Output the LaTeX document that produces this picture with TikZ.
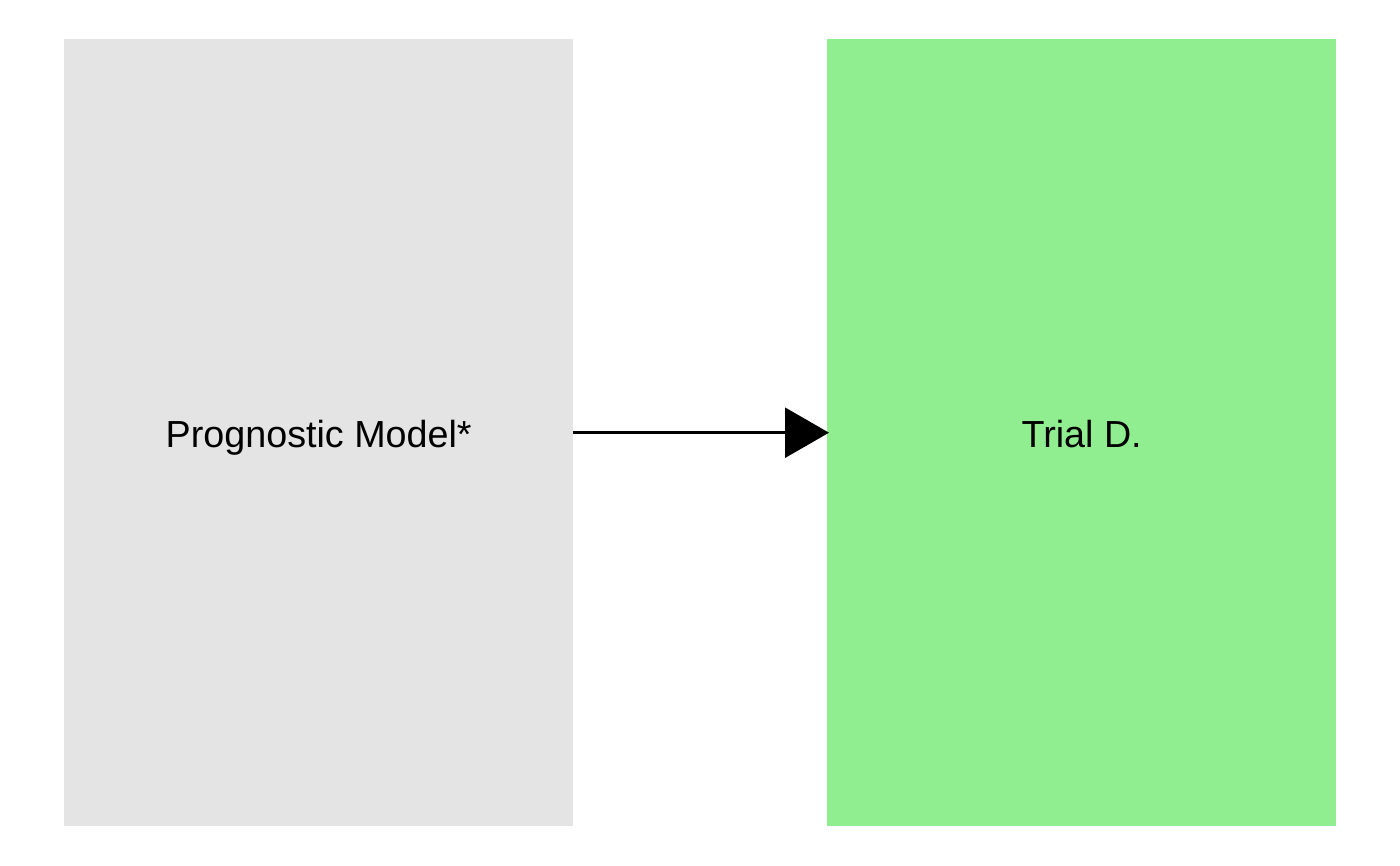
\documentclass[tikz,border=0pt]{standalone}
\usepackage{fontspec}
\setmainfont{Liberation Sans}
\usetikzlibrary{arrows.meta}
\definecolor{boxgray}{HTML}{E4E4E4}
\definecolor{boxgreen}{HTML}{90EE90}
\begin{document}
\begin{tikzpicture}[x=1pt,y=-1pt,
  blk/.style={draw=none,minimum width=509pt,minimum height=787pt,inner sep=0pt,anchor=north west,text height=29pt,text depth=0pt,font=\fontsize{37.7}{42}\selectfont},
  conn/.style={line width=2.5pt,-{Triangle[length=44pt,width=50pt]},shorten >=-2pt}]
\useasboundingbox (0,0) rectangle (1400,865);
\node[blk,fill=boxgray] (pm) at (64,39) {Prognostic Model*};
\node[blk,fill=boxgreen] (td) at (827,39) {Trial D.};
\draw[conn] (pm.east) -- (td.west);
\end{tikzpicture}
\end{document}
